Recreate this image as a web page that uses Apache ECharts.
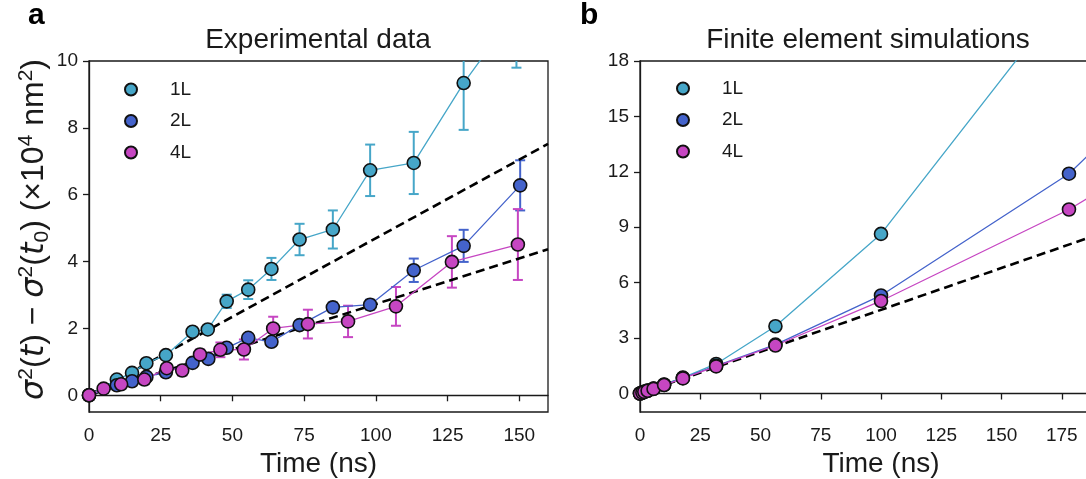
<!DOCTYPE html>
<html>
<head>
<meta charset="utf-8">
<title>Variance growth: experiment and simulation</title>
<script src="https://cdn.jsdelivr.net/npm/echarts@6/dist/echarts.min.js"></script>
<style>
  html, body { margin: 0; padding: 0; background: #fff; }
  #chart { width: 1086px; height: 479px; }
</style>
</head>
<body>
<div id="chart"></div>
<script>
// ---- Panel a: experimental data (time in ns, variance in 1e4 nm^2, error = half-width) ----
const timeA1L  = [0, 9.7, 15, 20, 26.8, 36.1, 41.4, 48, 55.5, 63.6, 73.4, 85, 98, 113.2, 130.6, 149];
const sigmaA1L = [0, 0.47, 0.67, 0.96, 1.2, 1.9, 1.97, 2.81, 3.16, 3.78, 4.66, 4.96, 6.73, 6.95, 9.34, 11.5];
const errA1L   = [0, 0.05, 0.06, 0.06, 0.07, 0.08, 0.1, 0.2, 0.28, 0.33, 0.47, 0.57, 0.77, 0.93, 1.4, 1.7];

const timeA2L  = [0, 9.7, 15, 20, 26.8, 36.1, 41.6, 48, 55.5, 63.6, 73.4, 85, 98, 113.2, 130.6, 150.3];
const sigmaA2L = [0, 0.3, 0.42, 0.55, 0.69, 0.97, 1.09, 1.42, 1.72, 1.6, 2.1, 2.63, 2.71, 3.74, 4.47, 6.28];
const errA2L   = [0, 0.04, 0.05, 0.05, 0.06, 0.06, 0.07, 0.08, 0.1, 0.1, 0.1, 0.15, 0.15, 0.35, 0.48, 0.75];

const timeA4L  = [0, 5.1, 11.2, 19.3, 27.1, 32.5, 38.7, 45.8, 54, 64.2, 76.3, 90.3, 107, 126.5, 149.5];
const sigmaA4L = [0, 0.2, 0.33, 0.47, 0.81, 0.74, 1.22, 1.36, 1.37, 2.0, 2.13, 2.21, 2.66, 3.99, 4.51];
const errA4L   = [0, 0.04, 0.06, 0.14, 0.1, 0.15, 0.15, 0.22, 0.3, 0.35, 0.43, 0.47, 0.58, 0.77, 1.06];

// Linear reference lines for panel a
const fitTimeA  = [0, 160];
const fitUpperA = [0, 7.52];
const fitLowerA = [0, 4.37];

// ---- Panel b: finite element simulations ----
const timeB1L  = [0, 1, 1.78, 3.16, 5.62, 10, 17.8, 31.6, 56.2, 100, 178];
const sigmaB1L = [0, 0.05, 0.09, 0.16, 0.27, 0.49, 0.86, 1.6, 3.64, 8.64, 21.7];
const timeB    = [0, 1, 1.78, 3.16, 5.62, 10, 17.8, 31.6, 56.2, 100, 178, 316];
const sigmaB2L = [0, 0.05, 0.09, 0.15, 0.26, 0.47, 0.84, 1.5, 2.65, 5.31, 11.9, 29.2];
const sigmaB4L = [0, 0.05, 0.09, 0.15, 0.25, 0.46, 0.82, 1.47, 2.6, 5.01, 9.96, 20.9];

const fitTimeB = [0, 200];
const fitB     = [0, 9.06];

// Tick labels
const ticksXA = [0, 25, 50, 75, 100, 125, 150];
const ticksYA = [0, 2, 4, 6, 8, 10];
const ticksXB = [0, 25, 50, 75, 100, 125, 150, 175, 200];
const ticksYB = [0, 3, 6, 9, 12, 15, 18];

const seriesNames = ['1L', '2L', '4L'];
const colors = { '1L': '#46a6c8', '2L': '#4463cb', '4L': '#c646c2' };

const FONT = '"Liberation Sans", Arial, Helvetica, sans-serif';
const MATH = '"DejaVu Sans", sans-serif';
const INK = '#1a1a1a';

const zip = (xs, ys) => xs.map((x, i) => [x, ys[i]]);
const zip3 = (xs, ys, es) => xs.map((x, i) => [x, ys[i], es[i]]);

function errorBarItem(params, api) {
  const x = api.value(0), y = api.value(1), e = api.value(2);
  if (!(e > 0)) return null;
  const hi = api.coord([x, y + e]);
  const lo = api.coord([x, y - e]);
  const cap = 5;
  const style = { stroke: api.visual('color'), lineWidth: 2 };
  return {
    type: 'group',
    children: [
      { type: 'line', shape: { x1: hi[0], y1: hi[1], x2: lo[0], y2: lo[1] }, style },
      { type: 'line', shape: { x1: hi[0] - cap, y1: hi[1], x2: hi[0] + cap, y2: hi[1] }, style },
      { type: 'line', shape: { x1: lo[0] - cap, y1: lo[1], x2: lo[0] + cap, y2: lo[1] }, style }
    ]
  };
}

function dataLine(name, data, idx) {
  return {
    name, type: 'line', xAxisIndex: idx, yAxisIndex: idx, data,
    symbol: 'circle', symbolSize: 13, showAllSymbol: true,
    lineStyle: { color: colors[name], width: 1.3 },
    itemStyle: { color: colors[name], borderColor: '#111', borderWidth: 1.6 },
    emphasis: { disabled: true }, animation: false, z: 4, clip: true
  };
}

function fitLine(data, idx) {
  return {
    name: 'fit', type: 'line', xAxisIndex: idx, yAxisIndex: idx, data,
    symbol: 'none', lineStyle: { color: '#000', width: 2.6, type: [9, 5] },
    emphasis: { disabled: true }, animation: false, z: 3, clip: true, silent: true
  };
}

function errorSeries(name, data) {
  return {
    name: name + ' error', type: 'custom', xAxisIndex: 0, yAxisIndex: 0,
    data, renderItem: errorBarItem, encode: { x: 0, y: 1 },
    itemStyle: { color: colors[name] }, clip: true, z: 2, silent: true, animation: false
  };
}

const tickLabel = { fontFamily: FONT, fontSize: 19, color: INK };
const tickLine = { color: INK, width: 1.3 };

function xAxis(idx, max, ticks) {
  return {
    type: 'value', gridIndex: idx, min: 0, max,
    name: 'Time (ns)', nameLocation: 'middle', nameGap: 38,
    nameTextStyle: { fontFamily: FONT, fontSize: 28, color: INK },
    axisLine: { lineStyle: { color: INK, width: 1.3 } },
    axisTick: { show: true, length: 6, inside: false, lineStyle: tickLine, customValues: ticks },
    axisLabel: { ...tickLabel, margin: 14, customValues: ticks },
    splitLine: { show: false }
  };
}

function yAxis(idx, min, max, ticks, name) {
  const ax = {
    type: 'value', gridIndex: idx, min, max,
    axisLine: { show: true, lineStyle: { color: INK, width: 1.3 } },
    axisTick: { show: true, length: 6, inside: false, lineStyle: tickLine, customValues: ticks },
    axisLabel: { ...tickLabel, margin: 11, customValues: ticks },
    splitLine: { show: false }
  };
  if (name) {
    ax.name = name;
    ax.nameLocation = 'middle';
    ax.nameGap = 32;
    ax.nameRotate = 90;
    ax.nameTextStyle = {
      fontFamily: FONT, fontSize: 32, color: INK, padding: [0, 0, 0, 14],
      rich: {
        n:   { fontFamily: FONT, fontSize: 32, color: INK, lineHeight: 37 },
        i:   { fontFamily: MATH, fontStyle: 'italic', fontSize: 32, color: INK, lineHeight: 37 },
        sup: { fontFamily: FONT, fontSize: 21, color: INK, verticalAlign: 'top', lineHeight: 37, padding: [0, 0, 13, 0] },
        sub: { fontFamily: FONT, fontSize: 21, color: INK, verticalAlign: 'bottom', lineHeight: 37, padding: [10, 0, 0, 0] }
      }
    };
  }
  return ax;
}

function legend(left, top) {
  return {
    data: seriesNames, orient: 'vertical', left, top, padding: 0,
    icon: 'circle', itemWidth: 12, itemHeight: 12, itemGap: 12.5,
    textStyle: { fontFamily: FONT, fontSize: 19, color: INK, padding: [0, 0, 0, 28] },
    selectedMode: false
  };
}

const yNameA = '{i|σ}{sup|2}{n|(}{i|t}{n|) − }{i|σ}{sup|2}{n|(}{i|t}{sub|0}{n|) (×10}{sup|4}{n| nm}{sup|2}{n|)}';

const chart = echarts.init(document.getElementById('chart'), null, { renderer: 'canvas' });

chart.setOption({
  animation: false,
  backgroundColor: '#fff',
  grid: [
    { left: 89, top: 61, width: 459, height: 351, show: true, borderColor: INK, borderWidth: 1.3,
      backgroundColor: 'transparent', containLabel: false, outerBoundsMode: 'none' },
    { left: 640, top: 61, width: 482, height: 351, show: true, borderColor: INK, borderWidth: 1.3,
      backgroundColor: 'transparent', containLabel: false, outerBoundsMode: 'none' }
  ],
  xAxis: [ xAxis(0, 160, ticksXA), xAxis(1, 200, ticksXB) ],
  yAxis: [ yAxis(0, -0.5, 10, ticksYA, yNameA), yAxis(1, -1, 18, ticksYB, null) ],
  legend: [ legend(124, 80), legend(676, 79) ],
  graphic: [
    { type: 'text', left: 28, top: 1, style: { text: 'a', fontFamily: FONT, fontWeight: 'bold', fontSize: 30, fill: '#000' } },
    { type: 'text', left: 580, top: 1, style: { text: 'b', fontFamily: FONT, fontWeight: 'bold', fontSize: 30, fill: '#000' } },
    { type: 'text', x: 318, y: 40, style: { text: 'Experimental data', fontFamily: FONT, fontSize: 28, fill: INK, align: 'center', verticalAlign: 'middle' } },
    { type: 'text', x: 868, y: 40, style: { text: 'Finite element simulations', fontFamily: FONT, fontSize: 28, fill: INK, align: 'center', verticalAlign: 'middle' } }
  ],
  series: [
    errorSeries('1L', zip3(timeA1L, sigmaA1L, errA1L)),
    errorSeries('2L', zip3(timeA2L, sigmaA2L, errA2L)),
    errorSeries('4L', zip3(timeA4L, sigmaA4L, errA4L)),
    fitLine(zip(fitTimeA, fitUpperA), 0),
    fitLine(zip(fitTimeA, fitLowerA), 0),
    dataLine('1L', zip(timeA1L, sigmaA1L), 0),
    dataLine('2L', zip(timeA2L, sigmaA2L), 0),
    dataLine('4L', zip(timeA4L, sigmaA4L), 0),
    fitLine(zip(fitTimeB, fitB), 1),
    dataLine('1L', zip(timeB1L, sigmaB1L), 1),
    dataLine('2L', zip(timeB, sigmaB2L), 1),
    dataLine('4L', zip(timeB, sigmaB4L), 1)
  ]
});
</script>
</body>
</html>
